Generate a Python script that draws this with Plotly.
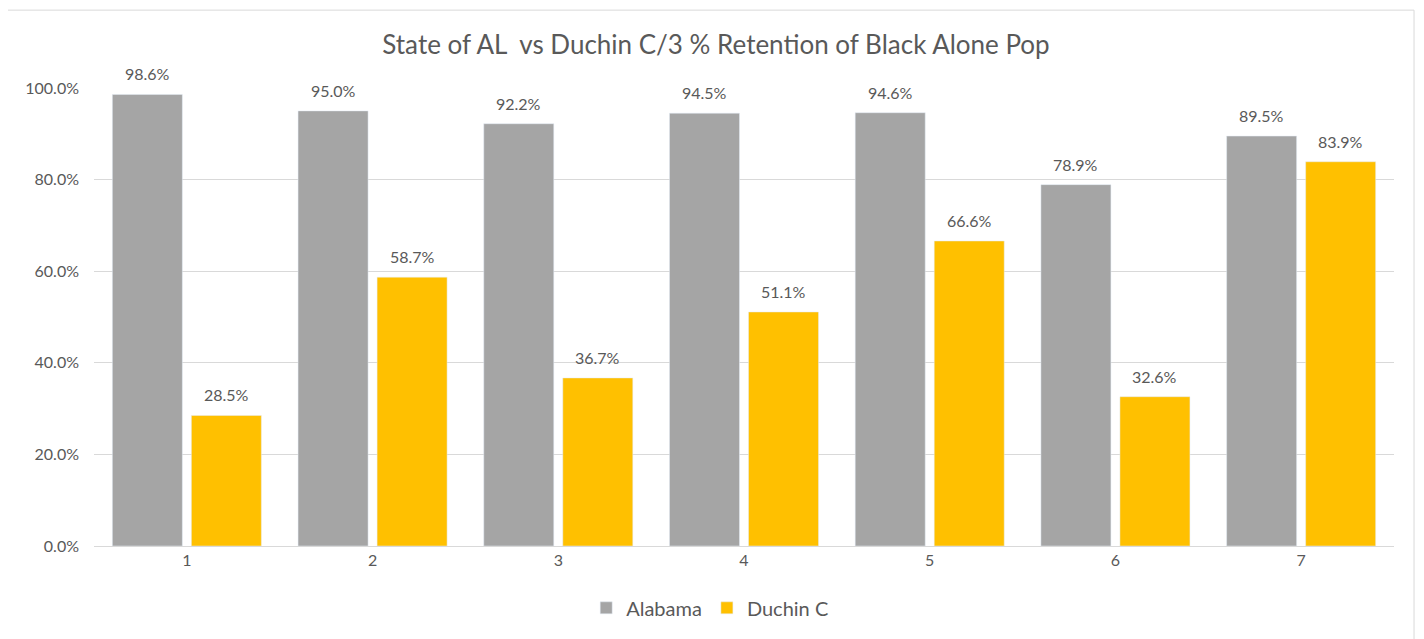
import plotly.graph_objects as go

districts = ["1", "2", "3", "4", "5", "6", "7"]
alabama = [98.6, 95.0, 92.2, 94.5, 94.6, 78.9, 89.5]
duchin_c = [28.5, 58.7, 36.7, 51.1, 66.6, 32.6, 83.9]
y_ticks = [0, 20, 40, 60, 80, 100]

TEXT = "#595959"
FONT = "Lato, 'Open Sans', sans-serif"

# the page body adds an 8px margin, so the figure is drawn 8px smaller
W, H = 1416, 631

fig = go.Figure()
fig.add_trace(
    go.Bar(
        x=districts,
        y=alabama,
        name="Alabama",
        marker={"color": "#A5A5A5"},
        hoverinfo="y",
    )
)
fig.add_trace(
    go.Bar(
        x=districts,
        y=duchin_c,
        name="Duchin C",
        marker={"color": "#FFC000"},
        hoverinfo="y",
    )
)

# data labels sit a little higher above the bars than plotly's "outside" text
# (annotations on a category axis take the category index)
for values, shift in ((alabama, -39.5), (duchin_c, 39.5)):
    for i, v in enumerate(values):
        fig.add_annotation(
            x=i,
            y=v,
            text=f"{v:.1f}%",
            showarrow=False,
            xshift=shift,
            yshift=9,
            yanchor="bottom",
            font={"size": 16, "color": TEXT, "family": FONT},
        )

# light frame round the chart, like the Excel chart area border
fig.add_shape(
    type="rect",
    xref="paper",
    yref="paper",
    x0=-0.0669,
    x1=1.0154,
    y0=-0.25,
    y1=1.170,
    line={"color": "#D9D9D9", "width": 1},
    fillcolor="rgba(0,0,0,0)",
    layer="below",
)

fig.update_layout(
    width=W,
    height=H,
    paper_bgcolor="white",
    plot_bgcolor="white",
    font={"family": FONT, "color": TEXT, "size": 16},
    title={
        "text": "State of AL  vs Duchin C/3 % Retention of Black Alone Pop",
        "x": 0.5,
        "xanchor": "center",
        "y": 1 - 37 / H,
        "yanchor": "middle",
        "font": {"size": 26, "color": TEXT, "family": FONT},
    },
    margin={"l": 86, "r": 30, "t": 80, "b": 93},
    barmode="group",
    bargap=0.149,
    bargroupgap=0.114,
    showlegend=True,
    legend={
        "orientation": "h",
        "x": 0.474,
        "xanchor": "center",
        "y": -0.135,
        "yanchor": "middle",
        "font": {"size": 20, "color": TEXT},
        "itemwidth": 30,
    },
    xaxis={
        "type": "category",
        "automargin": False,
        "showgrid": False,
        "showline": True,
        "linecolor": "#D9D9D9",
        "ticks": "",
        "tickfont": {"size": 16, "color": TEXT},
    },
    yaxis={
        "automargin": False,
        "range": [0, 100],
        "tickvals": y_ticks,
        "ticktext": [f"{v:.1f}%" for v in y_ticks],
        "showgrid": True,
        "gridcolor": "#D9D9D9",
        "zeroline": False,
        "ticks": "",
        "ticklabelstandoff": 14,
        "tickfont": {"size": 16, "color": TEXT},
    },
)

fig.write_html("out.html")
